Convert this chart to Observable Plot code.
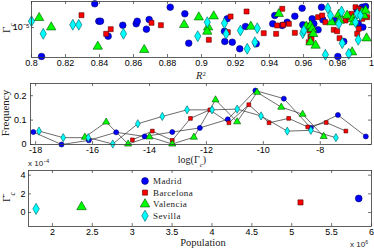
<!DOCTYPE html>
<html><head><meta charset="utf-8">
<script src="https://cdn.jsdelivr.net/npm/d3@7"></script>
<script src="https://cdn.jsdelivr.net/npm/@observablehq/plot@0.6"></script>
<style>
body{margin:0;background:#fff}
#chart svg{display:block;overflow:visible;background:transparent}
</style></head><body><div id="chart"></div>
<script>
const cities = ["Madrid", "Barcelona", "Valencia", "Sevilla"];

// ---- Panel 1: Gamma_c (log10) vs R^2 ----
const madridR2 = [0.8372,0.8396,0.8406,0.8059,0.8451,0.8537,0.8616,0.8622,0.8692,0.8676,0.8816,0.8902,0.8925,0.9151,0.9135,0.9137,0.9181,0.9259,0.9225,0.9322,0.9431,0.9419,0.9475,0.9504,0.9549,0.9592,0.9596,0.9651,0.9661,0.9686,0.9706,0.9714,0.9784,0.9802,0.9837,0.9916,0.9945,0.9965,0.9922,0.9949];
const madridLogGc = [-2.63,-4.37,-4.37,-7.9,-5.87,-4.77,-4.63,-4.37,-4.2,-5.17,-2.97,-3.63,-6.57,-4.13,-5.37,-6.4,-6.47,-4.9,-7.13,-6.63,-3.8,-4.63,-4.8,-4.47,-3.87,-3.07,-4.73,-4.13,-4.63,-5.23,-2.97,-4.23,-4.3,-7.9,-6.4,-3.23,-2.97,-2.9,-4.63,-4.97];
const barcelonaR2 = [0.8294,0.8466,0.8439,0.8706,0.8761,0.9043,0.9171,0.9155,0.9265,0.9366,0.9439,0.9475,0.9445,0.948,0.9514,0.9549,0.9622,0.9635,0.9641,0.9647,0.9631,0.9686,0.971,0.9729,0.9778,0.9798,0.9812,0.9847,0.9866,0.9882,0.9906,0.9925,0.9935,0.9945,0.9975,0.9925,0.9916];
const barcelonaLogGc = [-3.77,-5.17,-5.63,-4.53,-4.77,-6.23,-3.9,-5.47,-3.4,-5.57,-5.63,-3.13,-4.8,-4.73,-4.63,-5.53,-4.8,-5.3,-5.9,-6.13,-6.47,-3.97,-3.8,-4.47,-5.23,-5.37,-6.07,-4.3,-3.97,-3.63,-2.97,-3.13,-3.3,-4.13,-3.97,-5.13,-5.63];
const valenciaR2 = [0.8045,0.8116,0.839,0.8663,0.8898,0.8984,0.9039,0.9034,0.9072,0.929,0.9455,0.9616,0.9641,0.9651,0.9657,0.9641,0.9671,0.9765,0.9808,0.9812,0.9886,0.9857,0.989,0.9896,0.9945,0.9955,0.9965,0.9971];
const valenciaLogGc = [-4.03,-4.97,-6.9,-7.23,-4.73,-3.97,-4.97,-5.4,-3.87,-4.9,-3.63,-4.9,-4.8,-5.13,-5.63,-6.47,-6.8,-4.47,-3.7,-4.3,-7.47,-3.8,-4.13,-4.47,-3.47,-3.8,-3.3,-6.07];
const sevillaR2 = [0.8,0.8243,0.8278,0.8069,0.8541,0.9034,0.8978,0.9135,0.9145,0.9229,0.9328,0.9269,0.9314,0.9596,0.9602,0.9743,0.9759,0.9729,0.9808,0.9828,0.9866,0.9824,0.9916,0.9935,0.9906,0.9922];
const sevillaLogGc = [-4.37,-4.73,-4.73,-5.63,-5.63,-4.47,-5.87,-4.57,-5.63,-5.3,-5.07,-7.13,-6.47,-5.57,-5.3,-3.07,-3.8,-7.73,-4.63,-6.57,-7.63,-3.4,-3.63,-3.8,-4.47,-6.23];
const topXTicks = [0.8,0.82,0.84,0.86,0.88,0.9,0.92,0.94,0.96,0.98,1];
const topYTicks = [-5];
const topYTickLabels = ["10\u207B\u2075"];

// ---- Panel 2: frequency vs log(Gamma_c) ----
const madridLogG = [-18.08,-17.09,-16.13,-15.17,-14.17,-13.2,-12.23,-11.25,-10.28,-9.28,-8.33,-7.38,-6.4];
const madridFreq = [0.051,0,0.017,0.05,0.033,0.051,0.068,0.103,0.221,0.188,0.068,0.121,0.033];
const barcelonaLogG = [-14.6,-13.9,-13.2,-12.56,-11.88,-11.21,-10.51,-9.8,-9.11,-8.44,-7.79,-7.1];
const barcelonaFreq = [0.019,0.055,0.017,0.107,0.142,0.089,0.163,0.089,0.107,0.072,0.09,0.055];
const valenciaLogG = [-16.27,-15.52,-14.75,-14.0,-13.2,-12.44,-11.68,-10.92,-10.22,-9.37,-8.62,-7.88];
const valenciaFreq = [0.03,0.092,0.002,0.031,0.002,0.03,0.183,0.093,0.214,0.153,0.124,0.033];
const sevillaLogG = [-17.88,-17.03,-16.15,-15.29,-14.41,-13.55,-12.68,-11.8,-10.92,-10.08,-9.16,-8.33,-7.45];
const sevillaFreq = [0.055,0.028,0.028,0.002,0.085,0.115,0.142,0.142,0.145,0.117,0.055,0.058,0.028];
const midXTicks = [-18,-16,-14,-12,-10,-8];
const midYTicks = [0,0.1,0.2];

// ---- Panel 3: mean Gamma vs population ----
const population = [5.84e6, 5.11e6, 2.365e6, 1.795e6];
const meanGamma = [1.5e-4, 1.08e-4, 0.6e-4, 0.39e-4];
const botXTicks = [2,2.5,3,3.5,4,4.5,5,5.5,6];
const botYTicks = [0,2,4];

const style = {
  Madrid:    {symbol: "circle",   fill: "#0000ff", stroke: "#00006a", k: 1.0},
  Barcelona: {symbol: "square",   fill: "#ff0000", stroke: "#5a0000", k: 0.85},
  Valencia:  {symbol: "triangle", fill: "#00ff00", stroke: "#005000", k: 1.05},
  Sevilla:   {symbol: "diamond",  fill: "#00ffff", stroke: "#005a5a", k: 1.0}
};

const topData = [
  ...madridR2.map((r, i) => ({city: "Madrid", r2: r, g: madridLogGc[i]})),
  ...barcelonaR2.map((r, i) => ({city: "Barcelona", r2: r, g: barcelonaLogGc[i]})),
  ...valenciaR2.map((r, i) => ({city: "Valencia", r2: r, g: valenciaLogGc[i]})),
  ...sevillaR2.map((r, i) => ({city: "Sevilla", r2: r, g: sevillaLogGc[i]}))
];
const midData = [
  ...madridLogG.map((x, i) => ({city: "Madrid", x, f: madridFreq[i]})),
  ...barcelonaLogG.map((x, i) => ({city: "Barcelona", x, f: barcelonaFreq[i]})),
  ...valenciaLogG.map((x, i) => ({city: "Valencia", x, f: valenciaFreq[i]})),
  ...sevillaLogG.map((x, i) => ({city: "Sevilla", x, f: sevillaFreq[i]}))
];
const botData = cities.map((c, i) => ({city: c, pop: population[i], g: meanGamma[i]}));

const FRAME = "#3a3a3a";
const tickFont = {fontFamily: "'Liberation Sans', Arial, sans-serif", fontSize: "9px"};

function inward(xt, yt, xd, yd, w, h) {
  const tx = (yd[1] - yd[0]) * 3 / h, ty = (xd[1] - xd[0]) * 3 / w;
  const o = {stroke: FRAME, strokeWidth: 0.7};
  return [
    Plot.ruleX(xt, {x: d => d, y1: yd[0], y2: yd[0] + tx, ...o}),
    Plot.ruleX(xt, {x: d => d, y1: yd[1], y2: yd[1] - tx, ...o}),
    Plot.ruleY(yt, {y: d => d, x1: xd[0], x2: xd[0] + ty, ...o}),
    Plot.ruleY(yt, {y: d => d, x1: xd[1], x2: xd[1] - ty, ...o})
  ];
}
function cityDots(data, xk, yk, r) {
  return cities.map(c => Plot.dot(data.filter(d => d.city === c), {
    x: xk, y: yk, symbol: () => style[c].symbol, r: r * style[c].k,
    fill: style[c].fill, stroke: style[c].stroke, strokeWidth: 0.6
  }));
}
const fmt = d => String(d);
const symScale = {type: "identity"};

// Panel 1
const xd1 = [0.8, 1], yd1 = [-8, -2.4];
const p1 = Plot.plot({
  width: 374, height: 80, marginTop: 1, marginBottom: 23, marginLeft: 31, marginRight: 3,
  style: tickFont,
  x: {domain: xd1}, y: {domain: yd1}, symbol: symScale,
  marks: [
    ...inward(topXTicks, topYTicks, xd1, yd1, 340, 56),
    ...cityDots(topData, "r2", "g", 3.3),
    Plot.frame({stroke: FRAME, strokeWidth: 0.8}),
    Plot.axisX({ticks: topXTicks, tickSize: 0, tickPadding: 2, tickFormat: fmt, label: null}),
    Plot.axisY({ticks: topYTicks, tickSize: 0, tickPadding: 2, tickFormat: (d, i) => topYTickLabels[i], label: null})
  ]
});

// Panel 2
const xd2 = [-18.18, -6.2], yd2 = [0, 0.25];
const p2 = Plot.plot({
  width: 374, height: 88, marginTop: 3, marginBottom: 24, marginLeft: 30, marginRight: 3,
  style: tickFont,
  x: {domain: xd2}, y: {domain: yd2}, symbol: symScale,
  marks: [
    ...inward(midXTicks, midYTicks, xd2, yd2, 341, 61),
    Plot.line(midData, {x: "x", y: "f", z: "city", stroke: "#3c3c3c", strokeWidth: 0.75}),
    ...cityDots(midData, "x", "f", 2.5),
    Plot.frame({stroke: FRAME, strokeWidth: 0.8}),
    Plot.axisX({ticks: midXTicks, tickSize: 0, tickPadding: 2, tickFormat: fmt, label: null}),
    Plot.axisY({ticks: midYTicks, tickSize: 0, tickPadding: 4, tickFormat: fmt, label: null})
  ]
});

// Panel 3
const xd3 = [1.7, 6.0], yd3 = [-1.5, 4.5];
const p3 = Plot.plot({
  width: 374, height: 82, marginTop: 2, marginBottom: 24, marginLeft: 28, marginRight: 3,
  style: tickFont,
  x: {domain: xd3}, y: {domain: yd3}, symbol: symScale,
  marks: [
    ...inward(botXTicks, botYTicks, xd3, yd3, 343, 56),
    ...cityDots(botData, d => d.pop / 1e6, d => d.g / 1e-4, 3.4),
    Plot.frame({stroke: FRAME, strokeWidth: 0.8}),
    Plot.axisX({ticks: botXTicks, tickSize: 0, tickPadding: 2, tickFormat: fmt, label: null}),
    Plot.axisY({ticks: botYTicks, tickSize: 0, tickPadding: 3, tickFormat: fmt, label: null})
  ]
});

const root = document.getElementById("chart");
[p1, p2, p3].forEach(p => root.appendChild(p));

const SERIF = "'Liberation Serif', 'Times New Roman', serif";
const SANS = "'Liberation Sans', Arial, sans-serif";
function label(svg, x, y, parts, opt = {}) {
  const t = d3.select(svg).append("text")
    .attr("font-family", opt.family || SERIF).attr("font-size", opt.size || 11)
    .attr("fill", "#222").attr("text-anchor", opt.anchor || "middle")
    .attr("transform", `translate(${x},${y})` + (opt.rotate ? ` rotate(${opt.rotate})` : ""));
  if (opt.spacing) t.attr("letter-spacing", opt.spacing);
  parts.forEach(p => {
    const s = t.append("tspan").text(p.t);
    if (p.italic) s.attr("font-style", "italic");
    if (p.sub) s.attr("baseline-shift", "sub").attr("font-size", "70%");
    if (p.sup) s.attr("baseline-shift", "super").attr("font-size", "65%");
  });
  return t;
}
// panel 1 labels
label(p1, 10, 28, [{t: "\u0393"}, {t: "c", italic: true, sub: true}], {rotate: -90, size: 11});
label(p1, 201, 79, [{t: "R", italic: true}, {t: "2", sup: true}], {size: 10.5});
// panel 2 labels
label(p2, 9, 33, [{t: "Frequency"}], {rotate: -90, size: 11});
label(p2, 192, 83, [{t: "log(\u0393"}, {t: "c", italic: true, sub: true}, {t: ")"}], {size: 10});
// panel 3 labels
label(p3, 28, -2, [{t: "x 10"}, {t: "\u22124", sup: true}], {family: SANS, size: 8, anchor: "start"});
label(p3, 10, 29, [{t: "\u0393\u0304"}, {t: "c", italic: true, sub: true}], {rotate: -90, size: 11});
label(p3, 203, 78, [{t: "Population"}], {size: 10.5});
label(p3, 350, 79, [{t: "x 10"}, {t: "6", sup: true}], {family: SANS, size: 8, anchor: "start"});

// legend (pixel layout)
const lg = d3.select(p3).append("g");
cities.forEach((c, i) => {
  const y = 13 + i * 11.6;
  const s = style[c];
  const sym = {circle: d3.symbolCircle, square: d3.symbolSquare, triangle: d3.symbolTriangle, diamond: d3.symbolDiamond}[s.symbol];
  const rr = 3.4 * s.k;
  lg.append("path").attr("d", d3.symbol(sym, Math.PI * rr * rr)())
    .attr("transform", `translate(145,${y})`)
    .attr("fill", s.fill).attr("stroke", s.stroke).attr("stroke-width", 0.6);
  lg.append("text").attr("x", 153).attr("y", y + 3.2).attr("text-anchor", "start")
    .attr("font-family", SERIF).attr("font-size", 9).attr("letter-spacing", 0.4)
    .attr("fill", "#222").text(c);
});
</script></body></html>
